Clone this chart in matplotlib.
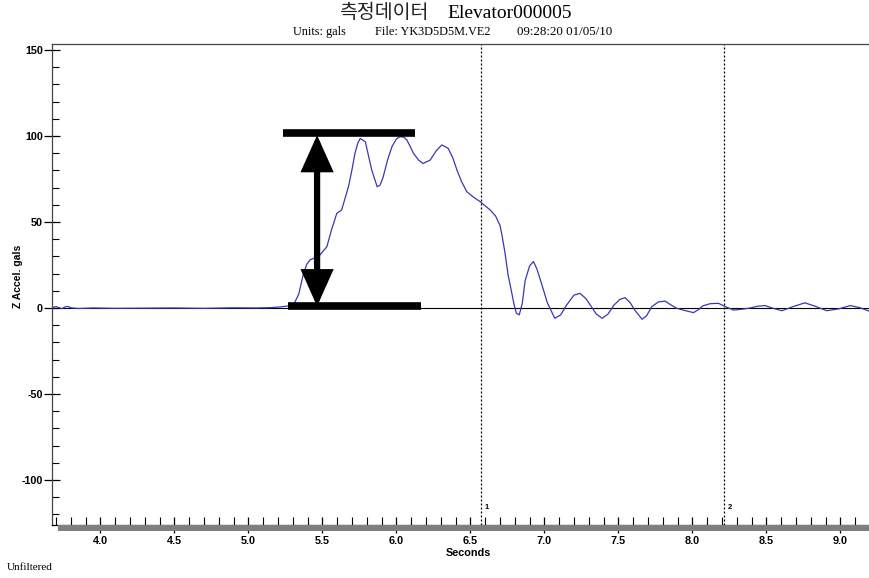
import matplotlib
matplotlib.use("Agg")
import matplotlib.pyplot as plt
from matplotlib.ticker import MultipleLocator, FormatStrFormatter

plt.rcParams["axes.unicode_minus"] = False

# Z-axis acceleration record (seconds, gals)
time_s = [3.675, 3.70, 3.72, 3.74, 3.76, 3.78, 3.80, 3.85, 3.95, 4.10, 4.30, 4.50, 4.70,
          4.90, 5.05, 5.15, 5.20, 5.236, 5.27, 5.304, 5.34, 5.372, 5.395, 5.417, 5.45,
          5.48, 5.53, 5.56, 5.597, 5.63, 5.676, 5.70, 5.72, 5.74, 5.755, 5.79, 5.81,
          5.834, 5.87, 5.89, 5.91, 5.94, 5.97, 6.0, 6.025, 6.05, 6.07, 6.09, 6.115,
          6.15, 6.18, 6.228, 6.27, 6.307, 6.35, 6.38, 6.41, 6.44, 6.476, 6.52, 6.566,
          6.633, 6.67, 6.70, 6.715, 6.734, 6.755, 6.78, 6.795, 6.81, 6.83, 6.85, 6.87,
          6.90, 6.926, 6.95, 6.98, 7.02, 7.07, 7.11, 7.15, 7.20, 7.24, 7.28, 7.31,
          7.35, 7.39, 7.43, 7.47, 7.51, 7.545, 7.58, 7.61, 7.66, 7.69, 7.726, 7.77,
          7.815, 7.86, 7.895, 7.95, 8.007, 8.04, 8.07, 8.12, 8.176, 8.23, 8.277,
          8.33, 8.39, 8.44, 8.49, 8.55, 8.604, 8.68, 8.76, 8.83, 8.908, 8.99, 9.066,
          9.13, 9.193]
accel_gals = [0.3, 0.8, 0.2, -0.4, 0.6, 0.9, 0.1, -0.3, 0.0, -0.2, -0.1, 0.0, -0.2,
              0.1, 0.0, 0.2, 0.5, 0.8, 1.2, 1.7, 8.0, 20.0, 25.5, 28.0, 29.2,
              30.5, 35.6, 45.0, 55.0, 57.0, 70.5, 80.5, 90.0, 96.0, 98.6, 96.7, 89.0,
              80.0, 70.5, 71.5, 76.0, 86.0, 93.8, 98.3, 99.6, 99.3, 97.7, 94.5, 90.0,
              86.0, 84.0, 86.0, 91.5, 94.8, 92.8, 87.5, 80.0, 73.5, 67.6, 64.5, 61.8,
              57.0, 53.5, 48.0, 41.5, 31.8, 19.0, 8.5, 2.0, -3.0, -4.0, 2.5, 16.0,
              24.5, 27.0, 22.5, 14.3, 3.0, -6.0, -4.0, 1.7, 7.5, 8.5, 5.5, 1.7,
              -3.5, -6.0, -3.5, 1.7, 5.0, 6.0, 3.0, -1.2, -6.6, -4.5, 0.8, 3.5,
              4.0, 1.5, -0.2, -1.5, -2.7, -1.0, 1.2, 2.5, 2.7, 0.5, -1.2,
              -0.8, 0.0, 1.0, 1.4, -0.3, -1.6, 0.8, 3.0, 1.0, -1.6, -0.5, 1.4,
              0.2, -1.8]

x_ticks = [4.0, 4.5, 5.0, 5.5, 6.0, 6.5, 7.0, 7.5, 8.0, 8.5, 9.0]
y_ticks = [-100, -50, 0, 50, 100, 150]
markers = [(6.574, "1"), (8.216, "2")]

# Peak-to-base bracket annotation
bracket_top = (5.236, 6.128, 101.5)
bracket_base = (5.27, 6.166, 1.2)
arrow_x = 5.464
arrow_span = (1.0, 100.5)

W, H = 869, 578
fig = plt.figure(figsize=(W / 100, H / 100), dpi=100)
ax = fig.add_axes([52 / W, 1 - 525 / H, 1 - 52 / W, (525 - 44) / H])
ax.set_xlim(3.673, 9.193)
ax.set_ylim(-126.2, 153.5)

ax.axhline(0, color="black", lw=0.8, zorder=2)
for xm, lab in markers:
    ax.axvline(xm, color="black", lw=0.9, ls=(0, (1.6, 1.6)), zorder=2)
    ax.text(xm + 0.02, -116, lab, fontsize=5.5, fontweight="bold",
            family="Liberation Sans", ha="left", va="center")

ax.plot(time_s, accel_gals, color="#3838b4", lw=0.9, zorder=3)

# bracket bars and double arrow
ax.plot([bracket_top[0], bracket_top[1]], [bracket_top[2]] * 2, color="black",
        lw=5.5, solid_capstyle="butt", zorder=4)
ax.plot([bracket_base[0], bracket_base[1]], [bracket_base[2]] * 2, color="black",
        lw=5.5, solid_capstyle="butt", zorder=4)
ax.annotate("", xy=(arrow_x, arrow_span[1]), xytext=(arrow_x, arrow_span[0]),
            arrowprops=dict(arrowstyle="<|-|>,head_length=1.9,head_width=0.85",
                            color="black", lw=4.5, shrinkA=0, shrinkB=0,
                            joinstyle="miter"), zorder=4)

ax.xaxis.set_major_locator(plt.FixedLocator(x_ticks))
ax.xaxis.set_minor_locator(MultipleLocator(0.1))
ax.yaxis.set_major_locator(plt.FixedLocator(y_ticks))
ax.yaxis.set_minor_locator(MultipleLocator(10))
ax.xaxis.set_major_formatter(FormatStrFormatter("%.1f"))

tick_font = dict(family="Liberation Sans", weight="bold", size=7.5)
ax.tick_params(axis="x", which="major", direction="inout", length=12, width=0.9,
               pad=2, colors="black")
ax.tick_params(axis="x", which="minor", direction="in", length=6, width=0.8)
ax.tick_params(axis="y", which="major", direction="inout", length=11, width=0.9, pad=1)
ax.tick_params(axis="y", which="minor", direction="in", length=5, width=0.8)
for lbl in ax.get_xticklabels() + ax.get_yticklabels():
    lbl.set_fontproperties(tick_font)
    lbl.set_fontsize(7.8)

ax.spines["right"].set_visible(False)
ax.spines["top"].set_color("#444444")
ax.spines["left"].set_color("#444444")
ax.spines["bottom"].set_color("black")
for s in ax.spines.values():
    s.set_linewidth(0.9)

# gray bar beneath the time axis
fig.add_artist(plt.Rectangle((58 / W, 1 - 531 / H), 1 - 58 / W, 6 / H,
                             transform=fig.transFigure, color="#7f7f7f", lw=0))

ax.set_ylabel("Z Accel. gals", fontsize=7.5, fontweight="bold", family="Liberation Sans")
ax.yaxis.set_label_coords(-29 / (W - 52), (525 - 276) / (525 - 44))

fig.text(468 / W, 1 - 553 / H, "Seconds", fontsize=7.8, fontweight="bold",
         family="Liberation Sans", ha="center", va="center")
fig.text(7 / W, 1 - 568 / H, "Unfiltered", fontsize=8, family="Liberation Serif",
         ha="left", va="center")

fig.text(428 / W, 1 - 13 / H, "측정데이터", fontsize=14, family="Noto Sans CJK KR",
         fontweight="light", ha="right", va="center", color="#222222")
fig.text(447 / W, 1 - 13 / H, "Elevator000005", fontsize=14, family="Liberation Serif",
         ha="left", va="center")
fig.text(293 / W, 1 - 32 / H, "Units: gals", fontsize=8.8, family="Liberation Serif",
         ha="left", va="center")
fig.text(375 / W, 1 - 32 / H, "File: YK3D5D5M.VE2", fontsize=8.8, family="Liberation Serif",
         ha="left", va="center")
fig.text(612 / W, 1 - 32 / H, "09:28:20 01/05/10", fontsize=9.4, family="Liberation Serif",
         ha="right", va="center")

fig.savefig("out.png", dpi=100)
